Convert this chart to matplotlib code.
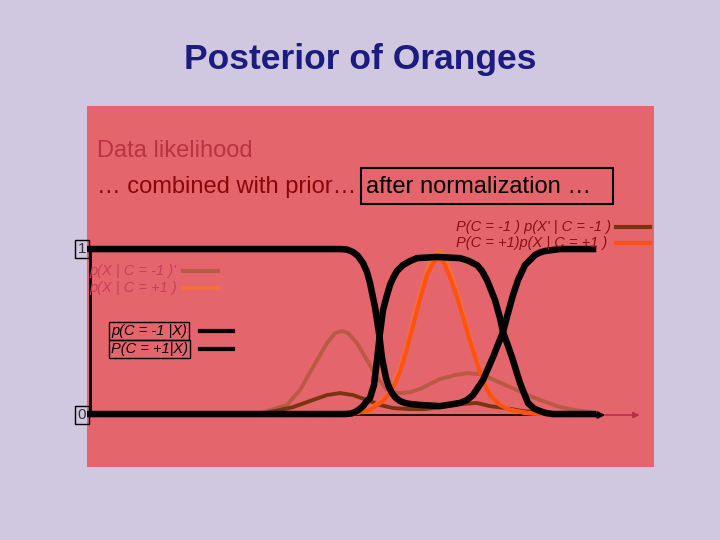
import matplotlib.pyplot as plt
from matplotlib.lines import Line2D

# feature axis X (0..100) and probability / density values
post_neg_x = [0, 50.0, 51.4, 52.6, 53.6, 54.6, 55.4, 56.0, 57.0, 57.8, 58.4, 59.2, 59.8, 60.4, 61.2, 62.0, 63.0, 64.0,
              66.0, 70.0, 74.0, 75.4, 76.6, 78.6, 80.6, 82.6, 83.6, 84.6, 85.6, 87.0, 88.0, 89.0, 90.0, 91.0, 94.0, 100.6]
post_neg_y = [1.0, 1.0, 0.997, 0.982, 0.958, 0.915, 0.861, 0.794, 0.648, 0.491, 0.339, 0.218, 0.164, 0.127, 0.097, 0.079, 0.067, 0.061,
              0.055, 0.048, 0.067, 0.085, 0.115, 0.206, 0.345, 0.497, 0.612, 0.721, 0.812, 0.903, 0.933, 0.964, 0.979, 0.988, 1.0, 1.0]

post_pos_x = [0, 51.0, 52.2, 53.0, 53.8, 54.6, 55.4, 56.0, 56.8, 57.4, 58.0, 58.6, 59.4, 60.0, 60.6, 61.4, 62.6, 64.0, 65.4,
              69.4, 74.0, 75.6, 77.4, 78.4, 79.4, 81.0, 82.0, 82.6, 83.4, 84.4, 86.0, 87.6, 88.8, 90.0, 91.2, 92.6, 100.6]
post_pos_y = [0.0, 0.0, 0.003, 0.012, 0.027, 0.048, 0.079, 0.097, 0.176, 0.327, 0.491, 0.630, 0.721, 0.782, 0.824, 0.867, 0.903, 0.927, 0.945,
              0.952, 0.945, 0.930, 0.903, 0.867, 0.812, 0.691, 0.582, 0.497, 0.430, 0.345, 0.188, 0.067, 0.033, 0.018, 0.006, 0.0, 0.0]

lik_neg_x = [34.4, 36.0, 39.4, 42.0, 44.6, 47.4, 49.0, 50.4, 51.6, 53.4, 55.4, 57.4, 59.4, 60.4, 62.0,
             64.0, 66.0, 70.0, 73.0, 75.4, 78.0, 80.0, 82.6, 85.4, 88.0, 90.6, 94.0, 97.0, 100.0]
lik_neg_y = [0.006, 0.024, 0.055, 0.145, 0.285, 0.430, 0.491, 0.503, 0.491, 0.430, 0.327, 0.224, 0.145, 0.133, 0.127,
             0.133, 0.152, 0.212, 0.236, 0.248, 0.242, 0.218, 0.182, 0.145, 0.109, 0.079, 0.042, 0.024, 0.012]

joint_neg_x = [36.0, 40.6, 44.0, 47.4, 50.0, 52.6, 55.4, 58.0, 60.6, 64.0, 67.0, 70.0, 74.0,
               77.4, 80.0, 83.0, 86.6, 91.0, 98.6]
joint_neg_y = [0.012, 0.042, 0.079, 0.115, 0.127, 0.115, 0.085, 0.055, 0.036, 0.030, 0.030, 0.042, 0.061,
               0.067, 0.048, 0.036, 0.018, 0.006, 0.0]

pos_x = [52.0, 53.4, 56.0, 58.6, 60.4, 62.0, 63.6, 65.4, 67.4, 68.6, 69.1, 69.6, 70.1, 70.6, 72.0, 73.4,
         74.6, 76.0, 77.4, 78.6, 80.0, 82.0, 84.0, 87.4, 91.0]
lik_pos_y = [0.0, 0.01, 0.03, 0.09, 0.16, 0.28, 0.45, 0.67, 0.88, 0.955, 0.975, 0.988, 0.985, 0.97, 0.87, 0.74,
             0.61, 0.46, 0.32, 0.21, 0.12, 0.06, 0.025, 0.006, 0.0]
joint_pos_y = [0.0, 0.006, 0.024, 0.079, 0.145, 0.255, 0.418, 0.630, 0.842, 0.915, 0.930, 0.939, 0.936, 0.927, 0.830, 0.709,
               0.588, 0.442, 0.309, 0.200, 0.115, 0.055, 0.024, 0.006, 0.0]

bg = '#cfc8e0'
panel = '#e5656d'
c_post = 'black'
c_lik_neg = '#b85a44'
c_joint_neg = '#7a3510'
c_lik_pos = '#f4703c'
c_joint_pos = '#ff5210'

fig = plt.figure(figsize=(7.2, 5.4), dpi=100, facecolor=bg)
plt.rcParams['font.family'] = ['Liberation Sans', 'DejaVu Sans']

def fx(px):
	return px / 720

def fy(py):
	return 1 - py / 540

# red panel is the plot area
ax = fig.add_axes([fx(87), fy(467), (654 - 87) / 720, (467 - 106) / 540])
ax.set_facecolor(panel)
ax.set_xlim(-0.6, 112.8)
ax.set_ylim(-0.321, 1.867)
ax.set_xticks([])
ax.set_yticks([])
for s in ax.spines.values():
	s.set_visible(False)

# axes: y line and the two arrows along x
ax.plot([0, 0], [0, 1], color='black', lw=2, solid_capstyle='butt')
ax.plot([0, 101], [-0.006, -0.006], color='black', lw=1.2)
ax.annotate('', xy=(110.5, -0.006), xytext=(102, -0.006),
	arrowprops=dict(arrowstyle='-|>', color='#b83048', lw=1.2, mutation_scale=9))
ax.annotate('', xy=(103.6, -0.006), xytext=(99, -0.006),
	arrowprops=dict(arrowstyle='-|>', color='black', lw=1.5, mutation_scale=10))

ax.plot(lik_neg_x, lik_neg_y, color=c_lik_neg, lw=2.8, solid_joinstyle='round')
ax.plot(joint_neg_x, joint_neg_y, color=c_joint_neg, lw=2.8, solid_joinstyle='round')
ax.plot(pos_x, lik_pos_y, color=c_lik_pos, lw=3.0, solid_joinstyle='round')
ax.plot(pos_x, joint_pos_y, color=c_joint_pos, lw=3.0, solid_joinstyle='round')
ax.plot(post_neg_x, post_neg_y, color=c_post, lw=4.7, solid_joinstyle='round')
ax.plot(post_pos_x, post_pos_y, color=c_post, lw=4.7, solid_joinstyle='round')

# title and slide text
fig.text(0.5, fy(59), 'Posterior of Oranges', ha='center', va='center',
	fontsize=25.5, fontweight='bold', color='#1b1b80')
fig.text(fx(97), fy(151), 'Data likelihood', ha='left', va='center', fontsize=17, color='#b8343f')
fig.text(fx(97), fy(187), '… combined with prior…', ha='left', va='center', fontsize=17, color='#8a0606')
fig.text(fx(366), fy(187), 'after normalization …', ha='left', va='center', fontsize=17, color='black')
fig.add_artist(plt.Rectangle((fx(361), fy(204)), (613 - 361) / 720, (204 - 168) / 540,
	fill=False, ec='black', lw=1.5, transform=fig.transFigure))

# legends
def leg(px, py, txt, tcolor, lx0, lx1, lcolor, lw, boxed=False):
	kw = {}
	if boxed:
		kw['bbox'] = dict(boxstyle='square,pad=0.12', fc='none', ec='black', lw=1)
	fig.text(fx(px), fy(py), txt, ha='left', va='center', fontsize=10.5, style='italic',
		color=tcolor, **kw)
	fig.add_artist(Line2D([fx(lx0), fx(lx1)], [fy(py), fy(py)], color=lcolor, lw=lw))

leg(456, 227, "P(C = -1 ) p(X' | C = -1 )", '#8a1010', 616, 650, c_joint_neg, 3)
leg(456, 243, 'P(C = +1)p(X | C = +1 )', '#8a1010', 616, 650, c_joint_pos, 3)
leg(89, 271, "p(X | C = -1 )'", '#c8405a', 183, 218, c_lik_neg, 3)
leg(89, 288, 'p(X | C = +1 )', '#c8405a', 183, 218, c_lik_pos, 3)
leg(111, 331, 'p(C = -1 |X)', 'black', 200, 233, 'black', 3, boxed=True)
leg(111, 349, 'P(C = +1|X)', 'black', 200, 233, 'black', 3, boxed=True)

for py, t in [(249, '1'), (415, '0')]:
	fig.text(fx(82), fy(py), t, ha='center', va='center', fontsize=11, color='#333333',
		bbox=dict(boxstyle='square,pad=0.15', fc='none', ec='black', lw=1))

fig.savefig('out.png', dpi=100, facecolor=bg)
